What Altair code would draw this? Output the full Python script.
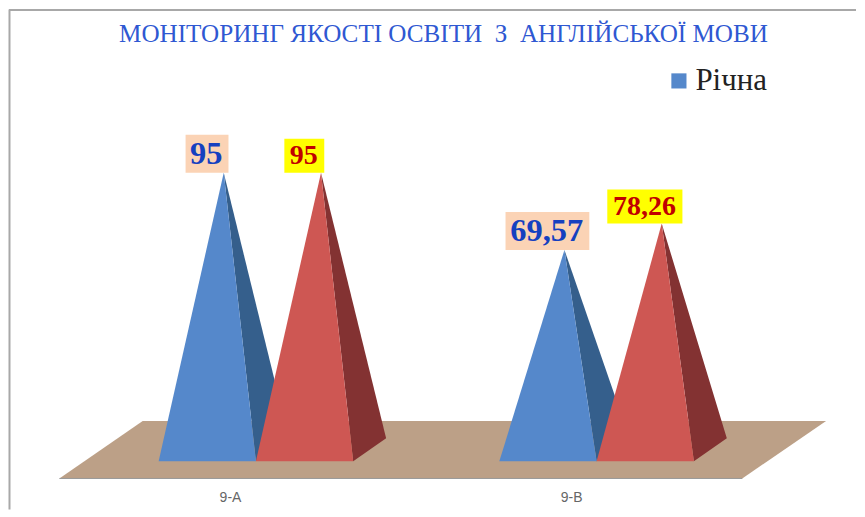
import altair as alt
import pandas as pd

# Data
categories = ["9-A", "9-B"]
series_first = [95, 69.57]
series_second = [95, 78.26]
first_labels = ["95", "69,57"]
second_labels = ["95", "78,26"]
legend_name = "Річна"
title_text = "МОНІТОРИНГ ЯКОСТІ ОСВІТИ \u00a0З \u00a0АНГЛІЙСЬКОЇ МОВИ"

# Layout of the drawing (page pixels)
W, H = 849, 501
FLOOR_PX = 460.7
K = 289.2 / 95  # pixels per value unit


def v_of(px):
    return (FLOOR_PX - px) / K


x_scale = alt.Scale(domain=[8, 8 + W], nice=False, zero=False)
y_scale = alt.Scale(domain=[v_of(8 + H), v_of(8)], nice=False, zero=False)
X = alt.X("x:Q", scale=x_scale, axis=None)
Y = alt.Y("y:Q", scale=y_scale, axis=None)

BLUE, BLUE_D = "#5588CB", "#355F8C"
RED, RED_D = "#CE5753", "#833232"
FLOOR, EDGE = "#BCA087", "#9A9A9A"
BORDER = "#A8A8A8"
BASE_W, DEPTH_X, DEPTH_V = 97.5, 33, v_of(437.7)

layers = []

# Floor
vb, vt = v_of(478), v_of(420.5)
floor_df = pd.DataFrame({"x": [58.5, 142, 743, 827], "y": [vb, vt, vt, vt], "y2": [vb, vb, vb, vt]})
layers.append(alt.Chart(floor_df).mark_area(color=FLOOR).encode(x=X, y=Y, y2="y2:Q"))
edge_df = pd.DataFrame({"x": [58.5], "x2": [743], "y": [vb]})
layers.append(alt.Chart(edge_df).mark_rule(color=EDGE, strokeWidth=1).encode(x=X, x2="x2:Q", y=Y))


def pyramid(left, value, front, side, legend=False):
    right = left + BASE_W
    back = right + DEPTH_X
    apex = (left + back) / 2
    top_r = value + (DEPTH_V - value) * (right - apex) / (back - apex)
    side_df = pd.DataFrame({"x": [apex, right, back], "y": [value, top_r, DEPTH_V], "y2": [value, 0, DEPTH_V]})
    face_df = pd.DataFrame({"x": [left, apex, right], "y": [0, value, 0], "y2": [0, 0, 0], "s": [legend_name] * 3})
    out = [alt.Chart(side_df).mark_area(color=side).encode(x=X, y=Y, y2="y2:Q")]
    if legend:
        out.append(
            alt.Chart(face_df).mark_area().encode(
                x=X, y=Y, y2="y2:Q",
                color=alt.Color(
                    "s:N",
                    scale=alt.Scale(domain=[legend_name], range=[BLUE]),
                    legend=alt.Legend(
                        title=None, orient="none", legendX=656, legendY=56,
                        symbolType="square", symbolSize=230, symbolStrokeWidth=0,
                        labelFont="Liberation Serif", labelFontSize=31, labelColor="#222222",
                        labelOffset=1, padding=0,
                    ),
                ),
            )
        )
    else:
        out.append(alt.Chart(face_df).mark_area(color=front).encode(x=X, y=Y, y2="y2:Q"))
    return out


def label(text, cx, x0, x1, value, gap_top, fill, color, size):
    y0 = value
    y1 = value + gap_top / K
    box = pd.DataFrame({"x": [x0], "x2": [x1], "y": [y0], "y2": [y1]})
    txt = pd.DataFrame({"x": [cx], "y": [(y0 + y1) / 2], "t": [text]})
    return [
        alt.Chart(box).mark_rect(color=fill).encode(x=X, x2="x2:Q", y=Y, y2="y2:Q"),
        alt.Chart(txt).mark_text(font="Liberation Serif", fontWeight="bold", fontSize=size, color=color,
                                 baseline="middle", align="center").encode(x=X, y=Y, text="t:N"),
    ]


lefts_first = [158, 499.5]
lefts_second = [255.5, 597]
label_first = [(205.7, 185, 228), (547, 505.7, 589.7)]
label_second = [(303.5, 284, 324), (645, 607.7, 683)]
cat_x = [230, 572]

for i in range(2):
    layers += pyramid(lefts_first[i], series_first[i], BLUE, BLUE_D, legend=True if i == 0 else False)
    layers += pyramid(lefts_second[i], series_second[i], RED, RED_D)

for i in range(2):
    c, a, b = label_first[i]
    layers += label(first_labels[i], c, a, b, series_first[i], 38, "#FBD3B5", "#1540C0", 32.5)
    c, a, b = label_second[i]
    layers += label(second_labels[i], c, a, b, series_second[i], 34, "#FFFF00", "#C00000", 28)

# Category labels
cat_df = pd.DataFrame({"x": cat_x, "y": [v_of(498)] * 2, "t": categories})
layers.append(alt.Chart(cat_df).mark_text(font="Liberation Sans", fontSize=14, color="#666666",
                                          baseline="middle", align="center").encode(x=X, y=Y, text="t:N"))

# Title
title_df = pd.DataFrame({"x": [443.5], "y": [v_of(32.5)], "t": [title_text]})
layers.append(alt.Chart(title_df).mark_text(font="Liberation Serif", fontSize=25.2, color="#2F58D2",
                                            baseline="middle", align="center").encode(x=X, y=Y, text="t:N"))

# Frame
layers.append(alt.Chart(pd.DataFrame({"a": [0]})).mark_rule(color=BORDER, strokeWidth=2).encode(
    x=alt.value(0.5), y=alt.value(0), y2=alt.value(H)))
layers.append(alt.Chart(pd.DataFrame({"a": [0]})).mark_rule(color=BORDER, strokeWidth=2).encode(
    y=alt.value(0.5), x=alt.value(0), x2=alt.value(W)))

chart = (
    alt.layer(*layers)
    .properties(width=W, height=H, padding=0, background="white")
    .configure_view(stroke=None)
)
chart.save("out.html", embed_options={"renderer": "svg", "actions": False})
